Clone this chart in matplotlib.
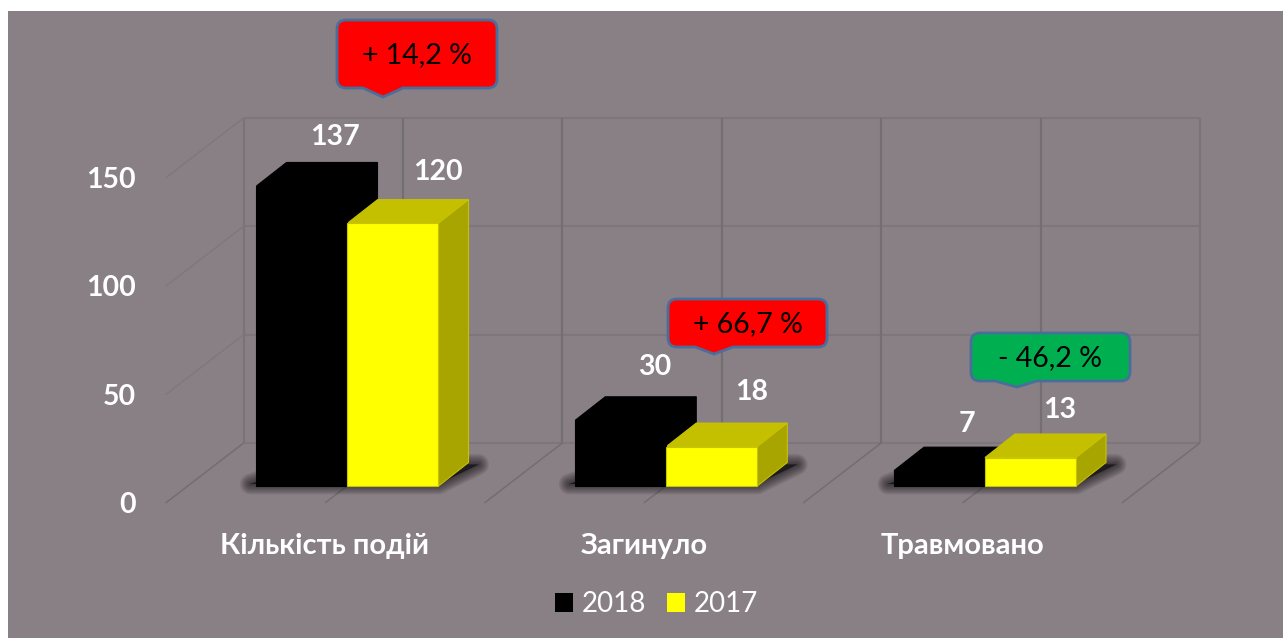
#!/usr/bin/env python

import matplotlib
matplotlib.use('Agg')
import matplotlib.pyplot as plt
from matplotlib.patches import Rectangle, Patch, PathPatch
from matplotlib.path import Path

plt.rcParams['font.family'] = ['Lato', 'Open Sans', 'DejaVu Sans']

categories = ['Кількість подій', 'Загинуло', 'Травмовано']
s2018 = [137, 30, 7]
s2017 = [120, 18, 13]
grid_values = [0, 50, 100, 150]
grid_x = [-0.5, 0, 0.5, 1, 1.5, 2, 2.5]
changes = ['+ 14,2 %', '+ 66,7 %', '- 46,2 %']
change_colors = ['#ff0000', '#ff0000', '#00b050']

W, H = 1283, 638
BG = '#888085'
STEP = 318.75          # pixels between categories
WALL_PX = 2.167        # pixels per unit on the walls
BAR_PX = 2.19          # pixels per unit on the bars

fig = plt.figure(figsize=(W / 100, H / 100), dpi=100, facecolor='white')
fig.add_artist(Rectangle((8 / W, 0), 1 - 8 / W, 1 - 11 / H, transform=fig.transFigure,
                         facecolor=BG, edgecolor='none', zorder=0))


def full_axes(x0, y0, xscale, yscale, z):
    ax = fig.add_axes([0, 0, 1, 1], zorder=z)
    ax.set_xlim(-x0 / xscale, (W - x0) / xscale)
    ax.set_ylim((y0 - H) / yscale, y0 / yscale)
    ax.axis('off')
    ax.patch.set_alpha(0)
    return ax


# walls and floor
wall = full_axes(325, 503, STEP, WALL_PX, 1)
ddx = 78 / STEP
ddy = 60 / WALL_PX
for v in grid_values:
    if v:
        wall.plot([grid_x[0], grid_x[0] + ddx], [v, v + ddy],
                  color='#7e777c', lw=1.0, solid_capstyle='butt')
    wall.plot([grid_x[0] + ddx, grid_x[-1] + ddx], [v + ddy, v + ddy],
              color='#7d767b', lw=1.5, solid_capstyle='butt')
    wall.annotate(str(v), (grid_x[0], v), xytext=(-21.6, -1.5), textcoords='offset points',
                  ha='right', va='center', color='white', fontsize=20.5, fontweight='bold')
for x in grid_x:
    c = '#7a7378' if x in (grid_x[0], grid_x[-1]) else '#746e72'
    wall.plot([x + ddx, x + ddx], [ddy, grid_values[-1] + ddy],
              color=c, lw=1.6, solid_capstyle='butt')
    wall.plot([x, x + ddx], [0, ddy], color='#736d71', lw=1.1, solid_capstyle='butt')
for i, name in enumerate(categories):
    wall.annotate(name, (i, 0), xytext=(0, -31.2), textcoords='offset points',
                  ha='center', va='center', color='white', fontsize=21, fontweight='bold')

# bars
bars = full_axes(347.5, 486, STEP, BAR_PX, 2)
w = 91 / STEP
bx = 30 / STEP
by = 23.5 / BAR_PX
xs = list(range(len(categories)))

# soft shadow on the floor
for i in xs:
    outline = [(i - w - 6 / STEP, 2 / BAR_PX), (i + w, 2 / BAR_PX),
               (i + w + 40 / STEP, by - 2 / BAR_PX), (i - w + 50 / STEP, by - 2 / BAR_PX)]
    for lw in [15, 13, 11, 9, 7, 5, 3, 1]:
        bars.fill(*zip(*outline), facecolor='black', edgecolor='black', lw=lw,
                  alpha=0.085, joinstyle='round', zorder=1)


def draw_bars(values, left, front, top, side, edge):
    rects = bars.bar(left, values, width=w, align='edge', color=front,
                     edgecolor=edge, lw=0.8, zorder=4)
    for r in rects:
        x0, x1, h = r.get_x(), r.get_x() + r.get_width(), r.get_height()
        bars.fill([x0, x1, x1 + bx, x0 + bx], [h, h, h + by, h + by],
                  facecolor=top, edgecolor=edge, lw=0.8, zorder=3)
        bars.fill([x1, x1 + bx, x1 + bx, x1], [0, by, h + by, h],
                  facecolor=side, edgecolor=edge, lw=0.8, zorder=3)
    return rects


draw_bars(s2018, [i - w for i in xs], 'black', 'black', 'black', 'black')
draw_bars(s2017, xs, '#ffff00', '#c4c000', '#a8a400', '#c8c400')

# callouts and labels, laid out in pixels
over = fig.add_axes([0, 0, 1, 1], zorder=3)
over.set_xlim(0, W)
over.set_ylim(H, 0)
over.axis('off')
over.patch.set_alpha(0)


def callout(x0, y0, x1, y1, t0, tx, t1, ty, color, label):
    r = 9
    verts = [(x0 + r, y0), (x1 - r, y0), (x1, y0), (x1, y0 + r), (x1, y1 - r), (x1, y1), (x1 - r, y1),
             (t1, y1), (tx, ty), (t0, y1), (x0 + r, y1), (x0, y1), (x0, y1 - r), (x0, y0 + r),
             (x0, y0), (x0 + r, y0), (x0 + r, y0)]
    codes = [Path.MOVETO, Path.LINETO, Path.CURVE3, Path.CURVE3, Path.LINETO, Path.CURVE3, Path.CURVE3,
             Path.LINETO, Path.LINETO, Path.LINETO, Path.LINETO, Path.CURVE3, Path.CURVE3, Path.LINETO,
             Path.CURVE3, Path.CURVE3, Path.CLOSEPOLY]
    over.add_patch(PathPatch(Path(verts, codes), facecolor=color, edgecolor='#4a6e9c', lw=2))
    over.text((x0 + x1) / 2, (y0 + y1) / 2 + 1.5, label, ha='center', va='center',
              color='black', fontsize=20.5)


callout(337, 20, 497, 88, 363, 383, 403, 97, change_colors[0], changes[0])
callout(668, 299, 827, 347, 695, 714, 733, 354, change_colors[1], changes[1])
callout(971, 333, 1130, 381, 995, 1017, 1037, 387, change_colors[2], changes[2])

label_xy = [(335, 137), (655, 367), (967, 424), (438, 172), (752, 392), (1060, 410)]
for (x, y), v in zip(label_xy, s2018 + s2017):
    over.text(x, y, str(v), ha='center', va='center', color='white',
              fontsize=20.5, fontweight='bold')

handles = [Patch(facecolor='black', label='2018'), Patch(facecolor='#ffff00', label='2017')]
over.legend(handles=handles, ncols=2, frameon=False, loc='center', bbox_to_anchor=(656.5 / W, 1 - 604 / H),
            fontsize=20, labelcolor='white', handlelength=0.66, handleheight=0.66,
            handletextpad=0.3, columnspacing=0.75, borderpad=0)

fig.savefig('out.png', dpi=100, facecolor='white')
